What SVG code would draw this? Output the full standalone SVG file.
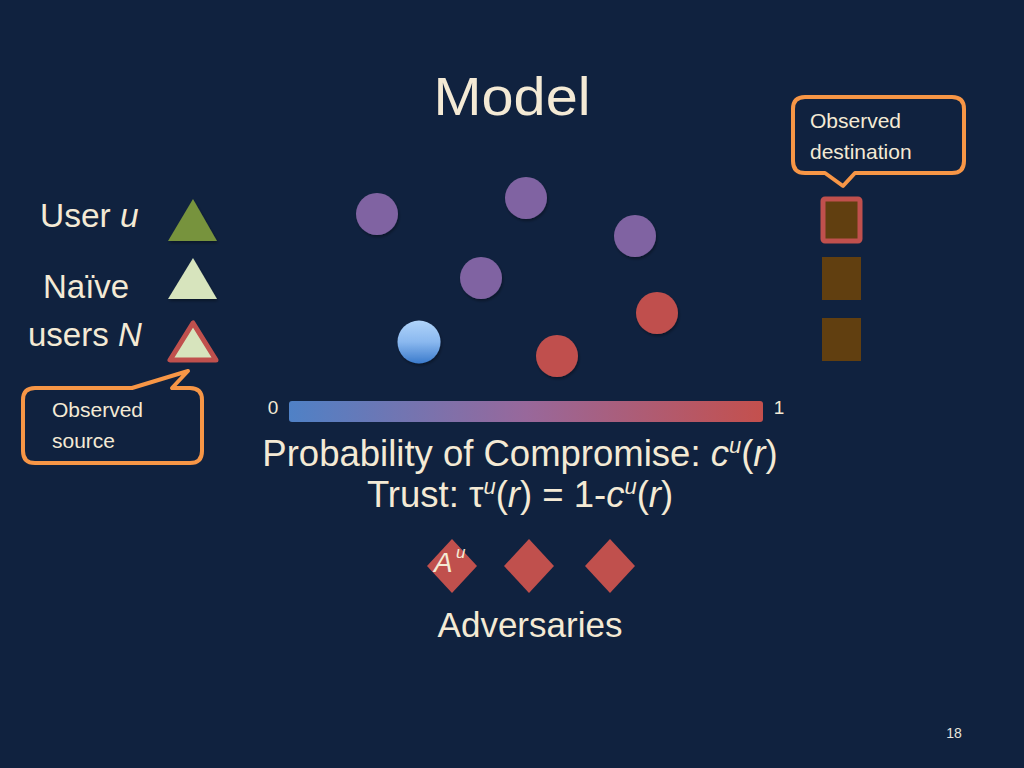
<svg xmlns="http://www.w3.org/2000/svg" width="1024" height="768" viewBox="0 0 1024 768">
<defs>
<style>
.t{font-family:"Liberation Sans",Arial,sans-serif;fill:#f4ead5}
.purple{fill:#8064a2}
.red{fill:#c0504d}
.callout{fill:#10223f;stroke:#f79646;stroke-width:4;stroke-linejoin:round}
.dest{fill:#613f10}
.diamond{fill:#c0504d}
.sup{font-size:22px;font-style:italic}
</style>
<linearGradient id="bar" x1="0" y1="0" x2="1" y2="0">
<stop offset="0" stop-color="#4f81c6"/>
<stop offset="0.5" stop-color="#98689b"/>
<stop offset="1" stop-color="#c4504d"/>
</linearGradient>
<linearGradient id="blue" x1="0" y1="0" x2="0" y2="1">
<stop offset="0" stop-color="#b0d4fa"/>
<stop offset="0.5" stop-color="#8ab8ef"/>
<stop offset="1" stop-color="#3b7bcc"/>
</linearGradient>
<filter id="sh" x="-30%" y="-30%" width="160%" height="160%">
<feDropShadow dx="1" dy="2" stdDeviation="1.5" flood-color="#000" flood-opacity="0.35"/>
</filter>
</defs>
<rect width="1024" height="768" fill="#10223f"/>

<g id="title"><text class="t" x="512" y="115" font-size="54" text-anchor="middle" textLength="157" lengthAdjust="spacingAndGlyphs">Model</text></g>

<g id="legend-user">
<text class="t" x="40" y="227" font-size="33.5">User <tspan font-style="italic">u</tspan></text>
<polygon points="193,199 168,241 217,241" fill="#77933c" filter="url(#sh)"/>
</g>
<g id="legend-naive">
<text class="t" x="43" y="298" font-size="33">Naïve</text>
<text class="t" x="28" y="346" font-size="33">users <tspan font-style="italic">N</tspan></text>
<polygon points="193,258 168,299 217,299" fill="#d7e4bd" filter="url(#sh)"/>
<polygon points="193,323 170,360 216,360" fill="#d7e4bd" stroke="#c0504d" stroke-width="5" stroke-linejoin="round"/>
</g>

<g id="callout-source">
<path class="callout" d="M35 388 H132 L188 371 L172 388 H190 Q202 388 202 400 V451 Q202 463 190 463 H35 Q23 463 23 451 V400 Q23 388 35 388 Z"/>
<text class="t" x="52" y="417" font-size="21">Observed</text>
<text class="t" x="52" y="448" font-size="21">source</text>
</g>

<g id="relays" filter="url(#sh)">
<circle class="purple" cx="377" cy="214" r="21"/>
<circle class="purple" cx="526" cy="198" r="21"/>
<circle class="purple" cx="635" cy="236" r="21"/>
<circle class="purple" cx="481" cy="278" r="21"/>
<circle class="red" cx="657" cy="313" r="21"/>
<circle fill="url(#blue)" cx="419" cy="342" r="21.5"/>
<circle class="red" cx="557" cy="356" r="21"/>
</g>

<g id="scale">
<text class="t" x="273" y="414" font-size="19" text-anchor="middle">0</text>
<rect x="289" y="401" width="474" height="21" rx="3" fill="url(#bar)"/>
<text class="t" x="779" y="414" font-size="19" text-anchor="middle">1</text>
<text class="t" x="520" y="466" font-size="36.5" text-anchor="middle">Probability of Compromise: <tspan font-style="italic">c</tspan><tspan class="sup" dy="-13">u</tspan><tspan dy="13">(</tspan><tspan font-style="italic">r</tspan>)</text>
<text class="t" x="520" y="507" font-size="36.5" text-anchor="middle">Trust: τ<tspan class="sup" dy="-13">u</tspan><tspan dy="13">(</tspan><tspan font-style="italic">r</tspan>) = 1-<tspan font-style="italic">c</tspan><tspan class="sup" dy="-13">u</tspan><tspan dy="13">(</tspan><tspan font-style="italic">r</tspan>)</text>
</g>

<g id="callout-destination">
<path class="callout" d="M805 97 H952 Q964 97 964 109 V161 Q964 173 952 173 H855 L843 186 L825 173 H805 Q793 173 793 161 V109 Q793 97 805 97 Z"/>
<text class="t" x="810" y="128" font-size="21">Observed</text>
<text class="t" x="810" y="159" font-size="21">destination</text>
</g>

<g id="destinations">
<rect class="dest" x="823" y="199" width="37" height="42" rx="2" stroke="#c0504d" stroke-width="5"/>
<rect class="dest" x="822" y="257" width="39" height="43"/>
<rect class="dest" x="822" y="318" width="39" height="43"/>
</g>

<g id="adversaries">
<polygon class="diamond" points="452,539 477,566 452,593 427,566"/>
<polygon class="diamond" points="529,539 554,566 529,593 504,566"/>
<polygon class="diamond" points="610,539 635,566 610,593 585,566"/>
<text class="t" x="434" y="572" font-size="28" font-style="italic">A</text>
<text class="t" x="456" y="558" font-size="17" font-style="italic">u</text>
<text class="t" x="530" y="637" font-size="35" text-anchor="middle">Adversaries</text>
</g>

<g id="connectors"/>

<g id="page"><text x="954" y="738" font-size="14" text-anchor="middle" font-family="Liberation Sans, Arial, sans-serif" fill="#e8e4dc">18</text></g>
</svg>
